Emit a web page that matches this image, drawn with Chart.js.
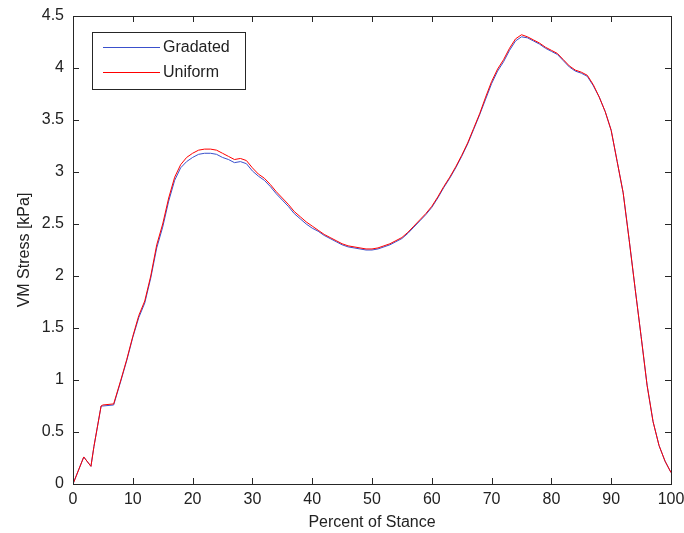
<!DOCTYPE html>
<html>
<head>
<meta charset="utf-8">
<script src="https://cdn.jsdelivr.net/npm/chart.js@4.4.1/dist/chart.umd.min.js"></script>
<style>
html,body{margin:0;padding:0;background:#fff;}
#wrap{width:684px;height:533px;position:relative;}
</style>
</head>
<body>
<div id="wrap"><canvas id="c" width="684" height="533"></canvas></div>
<script>
const stance = [0,1.8,3.0,3.5,4.7,5,6.8,8,9,10,11,12,13,14,15,16,17,18,19,20,21,22,23,24,25,26,27,28,29,30,31,32,33,34,35,36,37,38,39,40,41,42,43,44,45,46,47,48,49,50,51,52,53,54,55,56,57,58,59,60,61,62,63,64,65,66,67,68,69,70,71,72,73,74,75,76,77,78,79,80,81,82,83,84,85,86,87,88,89,90,91,92,93,94,95,96,97,98,99,100];
const uniform = [0,0.26,0.17,0.36,0.75,0.76,0.77,1.0,1.2,1.42,1.62,1.76,2.0,2.3,2.5,2.75,2.95,3.07,3.14,3.18,3.21,3.22,3.22,3.21,3.18,3.15,3.12,3.13,3.11,3.04,2.98,2.94,2.88,2.81,2.75,2.69,2.62,2.57,2.52,2.48,2.44,2.40,2.37,2.34,2.31,2.29,2.28,2.27,2.26,2.26,2.27,2.29,2.31,2.34,2.37,2.42,2.48,2.54,2.60,2.67,2.76,2.86,2.95,3.05,3.16,3.28,3.42,3.56,3.72,3.87,3.99,4.08,4.19,4.28,4.32,4.30,4.27,4.24,4.20,4.17,4.14,4.08,4.02,3.98,3.96,3.93,3.84,3.72,3.58,3.40,3.10,2.80,2.35,1.88,1.42,0.95,0.60,0.37,0.22,0.11];
const gradated = [0,0.26,0.17,0.36,0.75,0.75,0.76,0.99,1.19,1.41,1.60,1.74,1.98,2.27,2.47,2.72,2.92,3.04,3.10,3.14,3.17,3.18,3.18,3.17,3.14,3.12,3.09,3.10,3.08,3.01,2.96,2.92,2.86,2.79,2.73,2.67,2.60,2.55,2.50,2.46,2.43,2.39,2.36,2.33,2.30,2.28,2.27,2.26,2.25,2.25,2.26,2.28,2.30,2.33,2.36,2.41,2.47,2.53,2.59,2.66,2.75,2.85,2.94,3.04,3.15,3.27,3.41,3.55,3.70,3.85,3.97,4.06,4.17,4.26,4.30,4.29,4.26,4.23,4.19,4.16,4.13,4.07,4.01,3.97,3.95,3.92,3.83,3.72,3.58,3.40,3.10,2.80,2.35,1.88,1.42,0.95,0.60,0.37,0.22,0.11];
const xTicks = [0,10,20,30,40,50,60,70,80,90,100];
const xTickLabels = ['0','10','20','30','40','50','60','70','80','90','100'];
const yTicks = [0,0.5,1,1.5,2,2.5,3,3.5,4,4.5];
const yTickLabels = ['0','0.5','1','1.5','2','2.5','3','3.5','4','4.5'];
const seriesNames = ['Gradated','Uniform'];

const FONT = {family:'"Liberation Sans", Arial, sans-serif', size:16};
const TXT = '#222';

const boxPlugin = {
  id:'boxTicks',
  afterDraw(chart){
    const ctx = chart.ctx, a = chart.chartArea;
    const xs = chart.scales.x, ys = chart.scales.y;
    ctx.save();
    ctx.strokeStyle = '#262626';
    ctx.lineWidth = 1;
    ctx.strokeRect(Math.round(a.left)+0.5, Math.round(a.top)+0.5, Math.round(a.right-a.left), Math.round(a.bottom-a.top));
    const L = 6;
    ctx.beginPath();
    xTicks.forEach(v=>{
      const px = Math.round(xs.getPixelForValue(v))+0.5;
      ctx.moveTo(px, a.bottom); ctx.lineTo(px, a.bottom-L);
      ctx.moveTo(px, a.top); ctx.lineTo(px, a.top+L);
    });
    yTicks.forEach(v=>{
      const py = Math.round(ys.getPixelForValue(v))+0.5;
      ctx.moveTo(a.left, py); ctx.lineTo(a.left+L, py);
      ctx.moveTo(a.right, py); ctx.lineTo(a.right-L, py);
    });
    ctx.stroke();
    // legend
    const bx=92.5, by=32.5, bw=153, bh=57;
    ctx.fillStyle='#fff';
    ctx.fillRect(bx,by,bw,bh);
    ctx.strokeStyle='#262626';
    ctx.strokeRect(bx,by,bw,bh);
    const rows=[47,72];
    chart.data.datasets.forEach((ds,i)=>{
      ctx.strokeStyle = ds.borderColor;
      ctx.beginPath();
      ctx.moveTo(103, rows[i]+0.5); ctx.lineTo(160, rows[i]+0.5);
      ctx.stroke();
      ctx.fillStyle = TXT;
      ctx.font = '16px ' + FONT.family;
      ctx.textBaseline='middle';
      ctx.textAlign='left';
      ctx.fillText(ds.label, 163, rows[i]+1);
    });
    ctx.restore();
  }
};

new Chart(document.getElementById('c'), {
  type:'line',
  data:{
    datasets:[
      {label:seriesNames[0], data:stance.map((x,i)=>({x, y:gradated[i]})), borderColor:'#3a50cc', borderWidth:1, pointRadius:0, tension:0, order:1},
      {label:seriesNames[1], data:stance.map((x,i)=>({x, y:uniform[i]})), borderColor:'#ff0000', borderWidth:1, pointRadius:0, tension:0, order:0}
    ]
  },
  options:{
    responsive:false,
    animation:false,
    layout:{padding:{top:16, right:13, left:0, bottom:0}},
    plugins:{legend:{display:false}, tooltip:{enabled:false}},
    scales:{
      x:{
        type:'linear', min:0, max:100,
        afterBuildTicks(s){ s.ticks = xTicks.map(v=>({value:v})); },
        afterFit(s){ s.height = 49; s.paddingLeft = 0; s.paddingRight = 0; },
        grid:{display:false, drawTicks:false},
        border:{display:false},
        ticks:{padding:6, color:TXT, font:FONT, maxRotation:0, autoSkip:false, callback:(v)=>xTickLabels[xTicks.indexOf(v)]},
        title:{display:true, text:'Percent of Stance', color:TXT, font:FONT, padding:{top:0,bottom:1}}
      },
      y:{
        type:'linear', min:0, max:4.5,
        afterBuildTicks(s){ s.ticks = yTicks.map(v=>({value:v})); },
        afterFit(s){ s.width = 73; s.paddingTop = 0; s.paddingBottom = 0; },
        grid:{display:false, drawTicks:false},
        border:{display:false},
        ticks:{padding:9, color:TXT, font:FONT, autoSkip:false, callback:(v)=>yTickLabels[yTicks.indexOf(v)]},
        title:{display:true, text:'VM Stress [kPa]', color:TXT, font:FONT, padding:{top:15,bottom:0}}
      }
    }
  },
  plugins:[boxPlugin]
});
</script>
</body>
</html>
